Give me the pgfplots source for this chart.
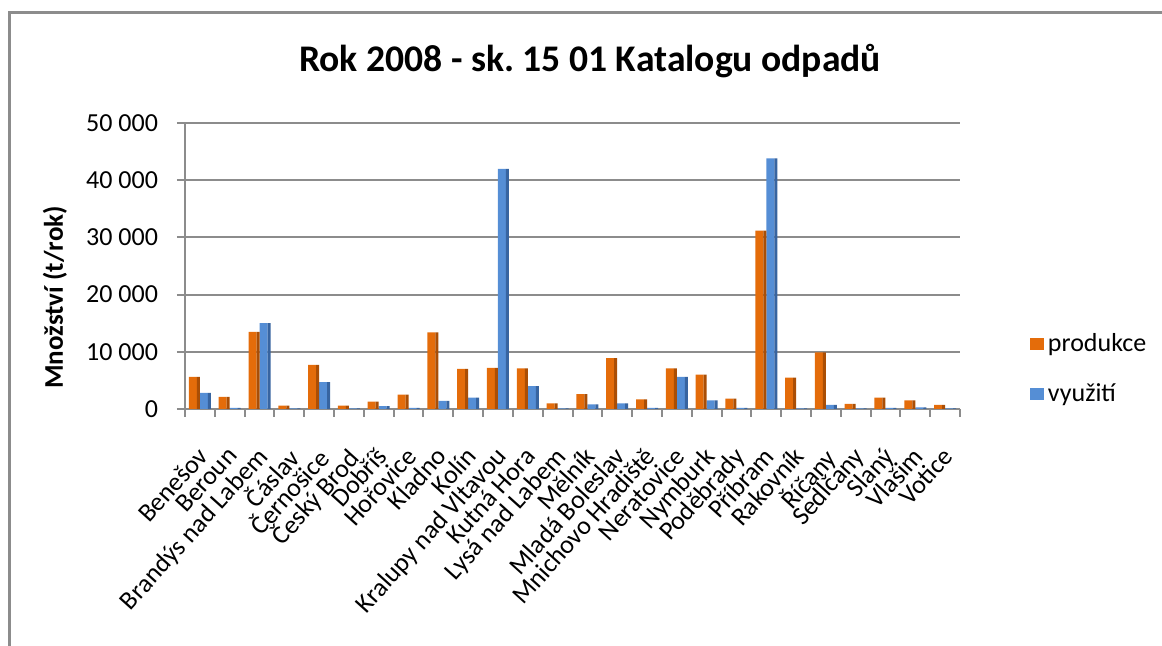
\documentclass[border=0pt]{standalone}
\usepackage{pgfplots}
\pgfplotsset{compat=1.18}
\usepackage{fontspec}
\setmainfont{Carlito}
\definecolor{orng}{RGB}{228,108,10}
\definecolor{orngd}{RGB}{170,78,5}
\definecolor{blu}{RGB}{85,142,213}
\definecolor{blud}{RGB}{55,100,160}
\definecolor{gridc}{RGB}{140,140,140}
\frenchspacing
\begin{document}
\begin{tikzpicture}[x=1pt,y=1pt]
\useasboundingbox (-92.5,-118.5) rectangle (488.5,204.5);
\pgfplotstableread{
x prod vyuz
0 5600 2800
1 2100 200
2 13500 15000
3 600 100
4 7700 4700
5 600 100
6 1300 500
7 2500 200
8 13400 1400
9 7000 2000
10 7200 42000
11 7100 4000
12 1000 100
13 2600 800
14 8900 1000
15 1700 200
16 7100 5600
17 6000 1500
18 1800 200
19 31200 43800
20 5500 100
21 9900 700
22 900 100
23 2000 200
24 1500 300
25 700 100
}\datatable
\begin{axis}[at={(0,0)}, anchor=south west, scale only axis,
  width=387.5pt, height=143pt,
  ybar=0pt,
  xmin=-0.5, xmax=25.5, ymin=0, ymax=50000,
  xtick={0,...,25},
  xticklabels={Benešov,Beroun,Brandýs nad Labem,Čáslav,Černošice,Český Brod,Dobříš,Hořovice,Kladno,Kolín,Kralupy nad Vltavou,Kutná Hora,Lysá nad Labem,Mělník,Mladá Boleslav,Mnichovo Hradiště,Neratovice,Nymburk,Poděbrady,Příbram,Rakovník,Říčany,Sedlčany,Slaný,Vlašim,Votice},
  xticklabel style={xshift=-2pt, yshift=-14pt, rotate=48, anchor=north east, inner sep=0pt,
    font=\fontsize{13}{15}\selectfont},
  major x tick style={draw=none},
  minor xtick={-0.5,0.5,...,25.5},
  minor tick length=4pt,
  x tick style={gridc, line width=1pt},
  ytick={0,10000,20000,30000,40000,50000},
  y tick style={gridc, line width=1pt},
  major tick length=4pt,
  tick align=outside,
  axis x line*=bottom, axis y line*=left,
  axis line style={gridc, line width=1pt},
  ymajorgrids, grid style={gridc, line width=1pt},
  scaled y ticks=false,
  /pgf/number format/1000 sep={\ },
  /pgf/number format/assume math mode=true,
  yticklabel style={font=\fontsize{13}{15}\selectfont, xshift=-6pt},
  ylabel={\textbf{Množství (t/rok)}},
  ylabel style={at={(axis description cs:-0.168,0.39)}, anchor=center, font=\fontsize{13.5}{15}\selectfont},
  title={\textbf{Rok 2008 - sk. 15 01 Katalogu odpadů}},
  title style={at={(axis description cs:0.5226,1.175)}, anchor=center, font=\fontsize{18.8}{22}\selectfont},
  area legend,
  legend style={at={(axis description cs:1.082,0.14)}, anchor=west, draw=none, fill=none,
    font=\fontsize{13}{15}\selectfont, row sep=11pt, cells={anchor=west}},
  legend image code/.code={\fill[#1] (0pt,-3pt) rectangle (7pt,3pt);},
]
\addplot[fill=orng, draw=none, bar width=4pt, bar shift=-3.5pt] table[x=x, y=prod] {\datatable};
\addplot[fill=blu, draw=none, bar width=4pt, bar shift=2pt] table[x=x, y=vyuz] {\datatable};
\addplot[fill=orngd, draw=none, bar width=1.5pt, bar shift=-0.75pt, forget plot] table[x=x, y=prod] {\datatable};
\addplot[fill=blud, draw=none, bar width=1.5pt, bar shift=4.75pt, forget plot] table[x=x, y=vyuz] {\datatable};
\legend{produkce, využití}
\end{axis}
\draw[gridc, line width=1.5pt] (-87.5,-118.5) -- (-87.5,198) -- (488.5,198);
\end{tikzpicture}
\end{document}
